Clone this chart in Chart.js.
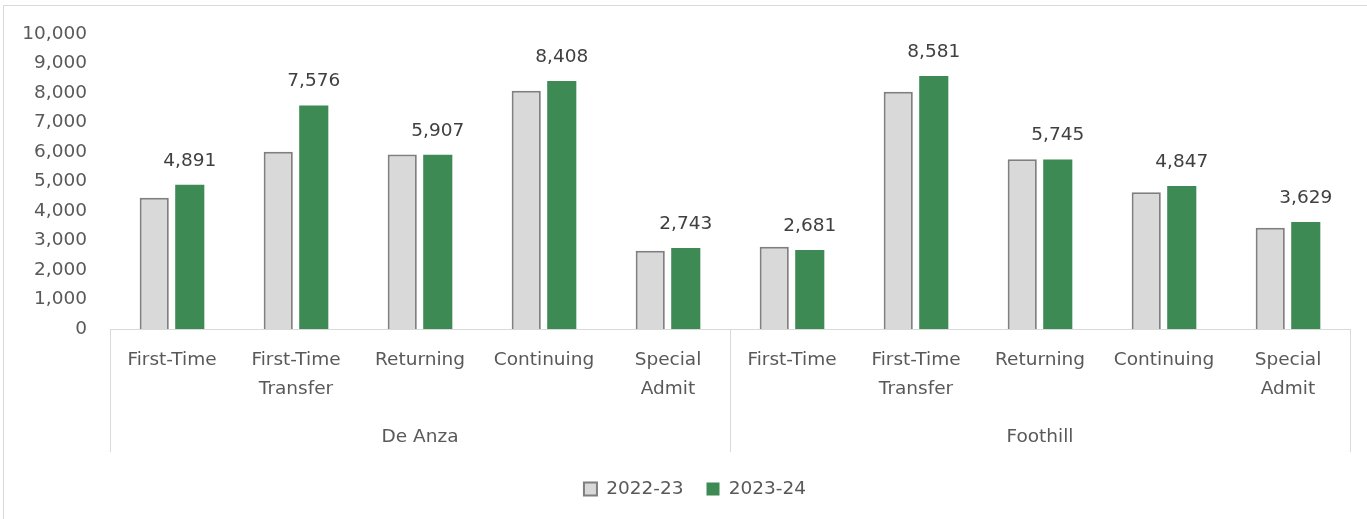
<!DOCTYPE html>
<html>
<head>
<meta charset="utf-8">
<script src="https://cdn.jsdelivr.net/npm/chart.js@4.4.1/dist/chart.umd.min.js"></script>
<style>
  html, body { margin: 0; padding: 0; background: #fff; }
  #wrap { position: absolute; left: 0; top: 0; width: 1367px; height: 519px; }
  #frame { position: absolute; left: 3px; top: 5px; width: 1400px; height: 600px; border-top: 1px solid #d9d9d9; border-left: 1px solid #d9d9d9; }
  canvas { position: absolute; left: 0; top: 0; }
</style>
</head>
<body>
<div id="wrap">
  <div id="frame"></div>
  <canvas id="c" width="1367" height="519"></canvas>
</div>
<script>
const categories = [
  'First-Time', ['First-Time', 'Transfer'], 'Returning', 'Continuing', ['Special', 'Admit'],
  'First-Time', ['First-Time', 'Transfer'], 'Returning', 'Continuing', ['Special', 'Admit']
];
const groups = ['De Anza', 'Foothill'];
const seriesNames = ['2022-23', '2023-24'];
const values2223 = [4450, 6010, 5920, 8080, 2655, 2790, 8045, 5755, 4640, 3435];
const values2324 = [4891, 7576, 5907, 8408, 2743, 2681, 8581, 5745, 4847, 3629];
const yTicks = [0, 1000, 2000, 3000, 4000, 5000, 6000, 7000, 8000, 9000, 10000];

const FONT = "'DejaVu Sans', sans-serif";
const FS = 18.5;
const fmt = v => v.toLocaleString('en-US');

const separators = {
  id: 'separators',
  afterDraw(chart) {
    const x = chart.scales.x, x2 = chart.scales.x2;
    const ctx = chart.ctx;
    const half = categories.length / 2;
    const mid = (x.getPixelForValue(half - 1) + x.getPixelForValue(half)) / 2;
    const xs = [x.left, mid, x.right];
    ctx.save();
    ctx.strokeStyle = '#d9d9d9';
    ctx.lineWidth = 1;
    xs.forEach(px => {
      const p = Math.round(px) + 0.5;
      ctx.beginPath();
      ctx.moveTo(p, x.top);
      ctx.lineTo(p, x2.top + 48);
      ctx.stroke();
    });
    ctx.restore();
  }
};

const legendShift = {
  id: 'legendShift',
  afterLayout(chart) {
    if (chart.legend) {
      chart.legend.left += 20;
      chart.legend.right += 20;
    }
  }
};

const dataLabels = {
  id: 'dataLabels',
  afterDatasetsDraw(chart) {
    const meta = chart.getDatasetMeta(1);
    const ctx = chart.ctx;
    ctx.save();
    ctx.font = FS + 'px ' + FONT;
    ctx.fillStyle = '#404040';
    ctx.textAlign = 'center';
    ctx.textBaseline = 'middle';
    meta.data.forEach((el, i) => {
      ctx.fillText(fmt(values2324[i]), el.x, el.y - 24);
    });
    ctx.restore();
  }
};

new Chart(document.getElementById('c'), {
  type: 'bar',
  data: {
    labels: categories,
    datasets: [
      {
        label: seriesNames[0],
        data: values2223,
        backgroundColor: '#d9d9d9',
        borderColor: '#7f7f7f',
        borderWidth: 2,
        xAxisID: 'x'
      },
      {
        label: seriesNames[1],
        data: values2324,
        backgroundColor: '#3d8a55',
        borderColor: '#3d8a55',
        borderWidth: 0,
        xAxisID: 'x'
      }
    ]
  },
  options: {
    responsive: false,
    animation: false,
    devicePixelRatio: 1,
    layout: { padding: { left: 0, right: 17, top: 28, bottom: 10.75 } },
    datasets: { bar: { categoryPercentage: 0.573, barPercentage: 0.82 } },
    plugins: {
      tooltip: { enabled: false },
      legend: {
        position: 'bottom',
        labels: {
          font: { family: FONT, size: FS },
          color: '#595959',
          boxWidth: 13,
          boxHeight: 13,
          padding: 23,
          useBorderRadius: false
        }
      }
    },
    scales: {
      x: {
        type: 'category',
        position: 'bottom',
        grid: { drawOnChartArea: false, drawTicks: false },
        border: { display: true, color: '#d9d9d9', width: 1 },
        ticks: {
          font: { family: FONT, size: FS, lineHeight: 1.57 },
          color: '#595959',
          padding: 17,
          maxRotation: 0,
          autoSkip: false
        },
        afterFit(s) { s.height = 75; }
      },
      x2: {
        type: 'category',
        position: 'bottom',
        labels: groups,
        offset: true,
        grid: { display: false },
        border: { display: false },
        ticks: {
          font: { family: FONT, size: FS },
          color: '#595959',
          padding: 14,
          maxRotation: 0
        },
        afterFit(s) { s.height = 52.75; }
      },
      y: {
        min: 0,
        max: 10000,
        afterBuildTicks(s) { s.ticks = yTicks.map(v => ({ value: v })); },
        grid: { display: false, drawTicks: false },
        border: { display: false },
        ticks: {
          font: { family: FONT, size: FS },
          color: '#595959',
          padding: 23,
          callback: v => fmt(v)
        },
        afterFit(s) { s.width = 110; }
      }
    }
  },
  plugins: [separators, dataLabels, legendShift]
});
</script>
</body>
</html>
